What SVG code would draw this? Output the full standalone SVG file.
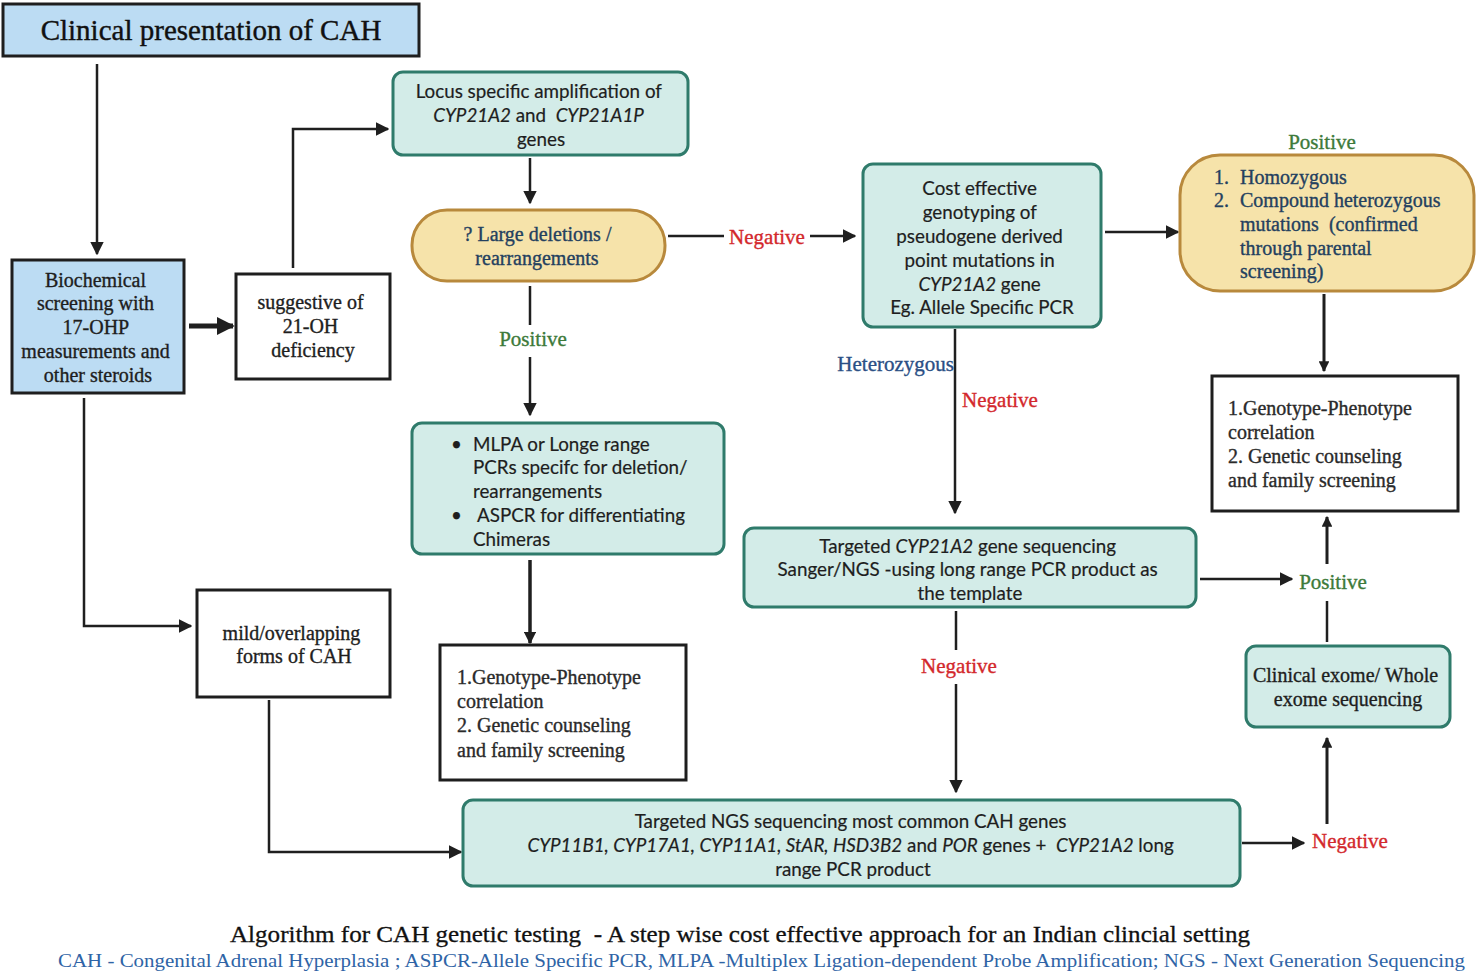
<svg xmlns="http://www.w3.org/2000/svg" width="1480" height="977" viewBox="0 0 1480 977">
<defs>
<marker id="ah" viewBox="0 0 10 10" refX="9" refY="5" markerWidth="5.5" markerHeight="5.5" markerUnits="strokeWidth" orient="auto">
<path d="M0,0 L10,5 L0,10 z" fill="#1f1f1f"/>
</marker>
<marker id="ahs" viewBox="0 0 10 10" refX="9" refY="5" markerWidth="3.6" markerHeight="3.6" markerUnits="strokeWidth" orient="auto">
<path d="M0,0 L10,5 L0,10 z" fill="#1f1f1f"/>
</marker>
</defs>
<style>
.serif{font-family:"Liberation Serif","Times New Roman",serif;}
.sans{font-family:Lato,"Open Sans","Liberation Sans",sans-serif;}
.t{font-size:20px;fill:#1e1e1e;stroke:#1e1e1e;stroke-width:0.35;}
.s{font-size:18.8px;fill:#1e1e1e;stroke:#1e1e1e;stroke-width:0.2;}
.blue{fill:#bcdcf3;stroke:#1e1e1e;stroke-width:3;}
.white{fill:#ffffff;stroke:#1e1e1e;stroke-width:3;}
.teal{fill:#d3ece8;stroke:#2f7b6b;stroke-width:3;}
.tan{fill:#f6e3aa;stroke:#b8893c;stroke-width:3;}
.dk{fill:#23405f;stroke:#23405f;}
.red{fill:#d3282c;stroke:#d3282c;stroke-width:0.35;font-size:21px;}
.green{fill:#3d7a3a;stroke:#3d7a3a;stroke-width:0.35;font-size:21px;}
.conn{fill:none;stroke:#1f1f1f;stroke-width:2.5;}
</style>
<rect width="1480" height="977" fill="#ffffff"/>

<g id="connectors">
<path class="conn" d="M97,64 V254" marker-end="url(#ah)"/>
<path class="conn" d="M189,326 H233" style="stroke-width:5" marker-end="url(#ahs)"/>
<path class="conn" d="M293,268 V129 H388" marker-end="url(#ah)"/>
<path class="conn" d="M530,158 V203" marker-end="url(#ah)"/>
<path class="conn" d="M668,236 H724"/>
<path class="conn" d="M810,236 H855" marker-end="url(#ah)"/>
<path class="conn" d="M530,286 V325"/>
<path class="conn" d="M530,357 V415" marker-end="url(#ah)"/>
<path class="conn" d="M530,560 V643" style="stroke-width:3.5" marker-end="url(#ahs)"/>
<path class="conn" d="M1105,232 H1178" marker-end="url(#ah)"/>
<path class="conn" d="M1324,294 V371" style="stroke-width:3" marker-end="url(#ahs)"/>
<path class="conn" d="M955,329 V513" marker-end="url(#ah)"/>
<path class="conn" d="M1200,579 H1292" marker-end="url(#ah)"/>
<path class="conn" d="M956,611 V650"/>
<path class="conn" d="M956,684 V792" marker-end="url(#ah)"/>
<path class="conn" d="M1327,642 V601"/>
<path class="conn" d="M1327,564 V517" style="stroke-width:3" marker-end="url(#ahs)"/>
<path class="conn" d="M1327,824 V738" style="stroke-width:3" marker-end="url(#ahs)"/>
<path class="conn" d="M1242,843 H1304" marker-end="url(#ah)"/>
<path class="conn" d="M84,398 V626 H191" marker-end="url(#ah)"/>
<path class="conn" d="M269,700 V852 H461" marker-end="url(#ah)"/>
</g>

<g id="labels" class="serif">
<text class="red" x="767" y="244" text-anchor="middle">Negative</text>
<text class="green" x="533" y="346" text-anchor="middle">Positive</text>
<text class="green" x="1322" y="149" text-anchor="middle">Positive</text>
<text x="954" y="371" text-anchor="end" style="font-size:21px;fill:#2b4f85;stroke:#2b4f85;stroke-width:0.35">Heterozygous</text>
<text class="red" x="1000" y="407" text-anchor="middle">Negative</text>
<text class="green" x="1333" y="589" text-anchor="middle">Positive</text>
<text class="red" x="959" y="673" text-anchor="middle">Negative</text>
<text class="red" x="1350" y="848" text-anchor="middle">Negative</text>
</g>

<g id="n-title">
<rect class="blue" x="3" y="4" width="416" height="52"/>
<text class="serif" x="211" y="40" text-anchor="middle" style="font-size:29px;fill:#111;stroke:#111;stroke-width:0.4">Clinical presentation of CAH</text>
</g>

<g id="n-biochem">
<rect class="blue" x="12" y="260" width="172" height="133"/>
<text class="serif t" text-anchor="middle">
<tspan x="98" y="287">Biochemical</tspan>
<tspan x="98" y="310">screening with</tspan>
<tspan x="98" y="334">17-OHP</tspan>
<tspan x="98" y="358">measurements and</tspan>
<tspan x="98" y="382">other steroids</tspan>
</text>
</g>

<g id="n-suggestive">
<rect class="white" x="236" y="274" width="154" height="105"/>
<text class="serif t" text-anchor="middle">
<tspan x="313" y="309">suggestive of</tspan>
<tspan x="313" y="333">21-OH</tspan>
<tspan x="313" y="357">deficiency</tspan>
</text>
</g>

<g id="n-locus">
<rect class="teal" x="393" y="72" width="295" height="83" rx="10"/>
<text class="sans s" text-anchor="middle">
<tspan x="541" y="98">Locus specific amplification of</tspan>
<tspan x="541" y="122"><tspan font-style="italic">CYP21A2</tspan> and&#160;&#160;<tspan font-style="italic">CYP21A1P</tspan></tspan>
<tspan x="541" y="146">genes</tspan>
</text>
</g>

<g id="n-deletions">
<rect class="tan" x="412" y="210" width="253" height="71" rx="35"/>
<text class="serif t dk" text-anchor="middle">
<tspan x="540" y="241">? Large deletions /</tspan>
<tspan x="537" y="265">rearrangements</tspan>
</text>
</g>

<g id="n-mlpa">
<rect class="teal" x="412" y="423" width="312" height="131" rx="10"/>
<text class="sans s">
<tspan x="451" y="451">•</tspan><tspan x="473" y="451">MLPA or Longe range</tspan>
<tspan x="473" y="474">PCRs specifc for deletion/</tspan>
<tspan x="473" y="498">rearrangements</tspan>
<tspan x="451" y="522">•</tspan><tspan x="477" y="522">ASPCR for differentiating</tspan>
<tspan x="473" y="546">Chimeras</tspan>
</text>
</g>

<g id="n-geno1">
<rect class="white" x="440" y="645" width="246" height="135"/>
<text class="serif t" style="fill:#2a2a2a;stroke:#2a2a2a">
<tspan x="457" y="684">1.Genotype-Phenotype</tspan>
<tspan x="457" y="708">correlation</tspan>
<tspan x="457" y="732">2. Genetic counseling</tspan>
<tspan x="457" y="757">and family screening</tspan>
</text>
</g>

<g id="n-costeff">
<rect class="teal" x="863" y="164" width="238" height="163" rx="10"/>
<text class="sans s" text-anchor="middle">
<tspan x="982" y="195">Cost effective</tspan>
<tspan x="982" y="219">genotyping of</tspan>
<tspan x="982" y="243">pseudogene derived</tspan>
<tspan x="982" y="267">point mutations in</tspan>
<tspan x="982" y="291"><tspan font-style="italic">CYP21A2</tspan> gene</tspan>
<tspan x="982" y="314">Eg. Allele Specific PCR</tspan>
</text>
</g>

<g id="n-positive">
<rect class="tan" x="1180" y="155" width="294" height="136" rx="40"/>
<text class="serif t dk">
<tspan x="1214" y="184">1.</tspan><tspan x="1240" y="184">Homozygous</tspan>
<tspan x="1214" y="207">2.</tspan><tspan x="1240" y="207">Compound heterozygous</tspan>
<tspan x="1240" y="231">mutations&#160;&#160;(confirmed</tspan>
<tspan x="1240" y="255">through parental</tspan>
<tspan x="1240" y="278">screening)</tspan>
</text>
</g>

<g id="n-geno2">
<rect class="white" x="1212" y="376" width="246" height="135"/>
<text class="serif t" style="fill:#2a2a2a;stroke:#2a2a2a">
<tspan x="1228" y="415">1.Genotype-Phenotype</tspan>
<tspan x="1228" y="439">correlation</tspan>
<tspan x="1228" y="463">2. Genetic counseling</tspan>
<tspan x="1228" y="487">and family screening</tspan>
</text>
</g>

<g id="n-targeted">
<rect class="teal" x="744" y="528" width="452" height="79" rx="10"/>
<text class="sans s" text-anchor="middle">
<tspan x="970" y="553">Targeted <tspan font-style="italic">CYP21A2</tspan> gene sequencing</tspan>
<tspan x="970" y="576">Sanger/NGS -using long range PCR product as</tspan>
<tspan x="970" y="600">the template</tspan>
</text>
</g>

<g id="n-exome">
<rect class="teal" x="1246" y="646" width="204" height="81" rx="10"/>
<text class="serif t" text-anchor="middle">
<tspan x="1348" y="682">Clinical exome/ Whole</tspan>
<tspan x="1348" y="706">exome sequencing</tspan>
</text>
</g>

<g id="n-mild">
<rect class="white" x="197" y="590" width="193" height="107"/>
<text class="serif t" text-anchor="middle">
<tspan x="294" y="640">mild/overlapping</tspan>
<tspan x="294" y="663">forms of CAH</tspan>
</text>
</g>

<g id="n-ngs">
<rect class="teal" x="463" y="800" width="777" height="86" rx="10"/>
<text class="sans s" text-anchor="middle">
<tspan x="853" y="828">Targeted NGS sequencing most common CAH genes</tspan>
<tspan x="853" y="852"><tspan font-style="italic">CYP11B1, CYP17A1, CYP11A1, StAR, HSD3B2</tspan> and <tspan font-style="italic">POR</tspan> genes +&#160;&#160;<tspan font-style="italic">CYP21A2</tspan> long</tspan>
<tspan x="853" y="876">range PCR product</tspan>
</text>
</g>

<g id="caption" class="serif">
<text x="230" y="942" textLength="1020" lengthAdjust="spacingAndGlyphs" style="font-size:23px;fill:#111;stroke:#111;stroke-width:0.3">Algorithm for CAH genetic testing&#160;&#160;- A step wise cost effective approach for an Indian clincial setting</text>
<text x="58" y="967" textLength="1407" lengthAdjust="spacingAndGlyphs" style="font-size:19px;fill:#2f64a6">CAH - Congenital Adrenal Hyperplasia ; ASPCR-Allele Specific PCR, MLPA -Multiplex Ligation-dependent Probe Amplification; NGS - Next Generation Sequencing</text>
</g>
</svg>
